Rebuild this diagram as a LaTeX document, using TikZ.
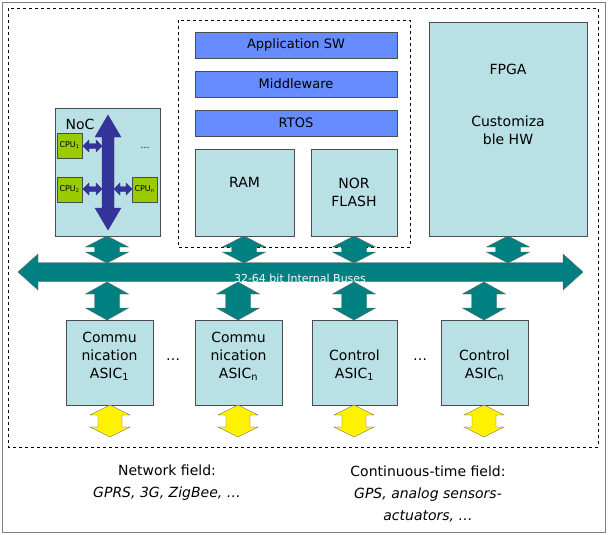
\documentclass[tikz,border=0pt]{standalone}
\usepackage{fontspec}
\setmainfont{DejaVu Sans}
\definecolor{lb}{RGB}{185,224,228}
\definecolor{bl}{RGB}{102,140,255}
\definecolor{tl}{RGB}{0,128,128}
\definecolor{gr}{RGB}{153,204,0}
\definecolor{nv}{RGB}{51,51,153}
% vertical double arrow: x, ytop, ybot, shaft half, head half, head len, style
\newcommand\vdarr[7]{\draw[#7] (#1,#2) -- (#1+#5,#2+#6) -- (#1+#4,#2+#6) -- (#1+#4,#3-#6) -- (#1+#5,#3-#6) -- (#1,#3) -- (#1-#5,#3-#6) -- (#1-#4,#3-#6) -- (#1-#4,#2+#6) -- (#1-#5,#2+#6) -- cycle;}
% horizontal: y, xleft, xright, shaft half, head half, head len, style
\newcommand\hdarr[7]{\draw[#7] (#2,#1) -- (#2+#6,#1-#5) -- (#2+#6,#1-#4) -- (#3-#6,#1-#4) -- (#3-#6,#1-#5) -- (#3,#1) -- (#3-#6,#1+#5) -- (#3-#6,#1+#4) -- (#2+#6,#1+#4) -- (#2+#6,#1+#5) -- cycle;}
\begin{document}
\begin{tikzpicture}[x=1pt,y=-1pt,
 box/.style={draw=black!70,fill=lb},
 bbox/.style={draw=black!70,fill=bl,font=\fontsize{13}{15}\selectfont},
 cpu/.style={draw=black!70,fill=gr,minimum width=25pt,minimum height=25pt,inner sep=0pt,font=\fontsize{8}{9}\selectfont},
 txt/.style={font=\fontsize{14}{18}\selectfont,align=center,inner sep=0pt},
 tarr/.style={draw=black!60,fill=tl},
 yarr/.style={draw=black!60,fill=yellow},
 narr/.style={draw=nv,fill=nv},
]
\path[use as bounding box] (0,0) rectangle (608,535);
\draw[black!50,fill=white] (2,2) rectangle (605,532);
\draw[dashed] (8,8) rectangle (598,447);
\draw[dashed] (178,20) rectangle (410,247);
% top blocks
\node[bbox,minimum width=202pt,minimum height=26pt] (app) at (296,45) {Application SW};
\node[bbox,minimum width=202pt,minimum height=26pt] (mw) at (296,84) {Middleware};
\node[bbox,minimum width=202pt,minimum height=26pt] (rtos) at (296,123) {RTOS};
\draw[box] (195,149) rectangle (294,236); \node[txt] (ram) at (244.5,182) {RAM};
\draw[box] (311,149) rectangle (397,236); \node[txt] (nor) at (354,192) {NOR\\FLASH};
\draw[box] (429,22) rectangle (587,236);
\node[txt] (fpga) at (508,69) {FPGA};
\node[txt] (cust) at (508,130) {Customiza\\ble HW};
% NoC
\draw[box] (55,108) rectangle (160,236);
\node[txt] (noc) at (80,124) {NoC};
\node[font=\fontsize{9}{9}\selectfont] (dots0) at (145,148) {\dots};
\node[cpu] (c1) at (69.5,145.5) {CPU\textsubscript{\tiny 1}};
\node[cpu] (c2) at (69.5,189.5) {CPU\textsubscript{\tiny 2}};
\node[cpu] (cn) at (144.5,189.5) {CPU\textsubscript{\tiny n}};
\vdarr{108}{115}{230}{6}{13}{22}{narr}
\hdarr{146}{83}{102}{2.5}{6}{6}{narr}
\hdarr{189}{83}{102}{2.5}{6}{6}{narr}
\hdarr{189}{114}{132}{2.5}{6}{6}{narr}
% bus
\hdarr{272}{18}{583}{9.5}{18}{20}{tarr}
\node[text=white,font=\fontsize{11}{12}\selectfont] (bt) at (300,278) {32-64 bit Internal Buses};
% vertical arrows
\foreach \x in {107,244,354,508} {\vdarr{\x}{236}{263}{12.5}{21.5}{11}{tarr}}
\foreach \x in {107,238,354,484} {\vdarr{\x}{282}{320}{12.5}{21.5}{12}{tarr}}
% ASICs
\draw[box] (66,320) rectangle (153,405); \node[txt] (s1) at (109.5,356) {Commu\\nication\\ASIC\textsubscript{1}};
\draw[box] (195,320) rectangle (282,405); \node[txt] (s2) at (238.5,356) {Commu\\nication\\ASIC\textsubscript{n}};
\draw[box] (312,320) rectangle (397,405); \node[txt] (s3) at (354.5,365) {Control\\ASIC\textsubscript{1}};
\draw[box] (441,320) rectangle (528,405); \node[txt] (s4) at (484.5,365) {Control\\ASIC\textsubscript{n}};
\node[txt] (e1) at (173,360) {\dots};
\node[txt] (e2) at (420,360) {\dots};
\foreach \x in {110,238,354,484} {\vdarr{\x}{405}{437}{12}{20}{10}{yarr}}
% bottom texts
\node[txt,font=\fontsize{14}{22}\selectfont] (nf) at (167,483) {Network field:\\\textit{GPRS, 3G, ZigBee, \dots}};
\node[txt,font=\fontsize{14}{22}\selectfont] (cf) at (428,494) {Continuous-time field:\\\textit{GPS, analog sensors-}\\\textit{actuators, \dots}};
\end{tikzpicture}
\end{document}
